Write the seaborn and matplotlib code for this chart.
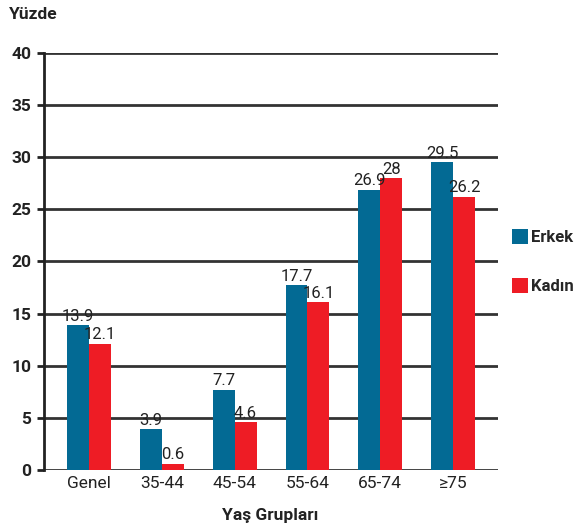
import matplotlib
matplotlib.use("Agg")
import matplotlib.pyplot as plt
from matplotlib import font_manager
import seaborn as sns
import pandas as pd

# Age groups and percentages by sex
groups = ["Genel", "35-44", "45-54", "55-64", "65-74", "≥75"]
erkek = [13.9, 3.9, 7.7, 17.7, 26.9, 29.5]
kadin = [12.1, 0.6, 4.6, 16.1, 28.0, 26.2]
series_names = ["Erkek", "Kadın"]
y_ticks = [0, 5, 10, 15, 20, 25, 30, 35, 40]

blue = "#036a94"
red = "#ee1c25"

sns.set_theme(style="white")
installed = {f.name for f in font_manager.fontManager.ttflist}
family = [f for f in ["Liberation Sans Narrow", "DejaVu Sans Condensed", "Roboto", "DejaVu Sans"]
          if f in installed] or ["DejaVu Sans"]
plt.rcParams["font.family"] = family + ["DejaVu Sans"]

df = pd.DataFrame({
    "grup": groups * 2,
    "cins": [series_names[0]] * len(groups) + [series_names[1]] * len(groups),
    "deger": erkek + kadin,
})

fig = plt.figure(figsize=(5.78, 5.29), dpi=100)
ax = fig.add_axes([0.076, 0.1115, 0.786, 0.7885])

sns.barplot(data=df, x="grup", y="deger", hue="cins", order=groups,
            hue_order=series_names, palette=[blue, red], width=0.6,
            saturation=1, dodge=True, ax=ax, zorder=3, errorbar=None,
            linewidth=0, edgecolor="none")

for cont in ax.containers:
    ax.bar_label(cont, fmt="{:g}", padding=1, fontsize=12, color="#222222", zorder=4)

ax.set_ylim(0, 40)
ax.set_xlim(-0.62, 5.62)
ax.set_yticks(y_ticks)
ax.set_yticklabels([str(t) for t in y_ticks], fontsize=12.5, fontweight="bold", color="#222222")
ax.tick_params(axis="y", direction="out", length=5, width=2, color="#222222", pad=4, left=True)
ax.tick_params(axis="x", length=0, labelsize=12.5, labelcolor="#222222", pad=4)

ax.yaxis.grid(True, color="#333333", linewidth=2)
ax.set_axisbelow(True)
for side in ["top", "right", "bottom"]:
    ax.spines[side].set_visible(False)
ax.spines["left"].set_color("#222222")
ax.spines["left"].set_linewidth(2)
ax.set_xlabel("")
ax.set_ylabel("")

ax.legend(loc="center left", bbox_to_anchor=(1.015, 0.5), frameon=False,
          handlelength=1.0, handleheight=1.0, handletextpad=0.15,
          labelspacing=2.0, borderpad=0.2, borderaxespad=0.2,
          prop={"size": 12, "weight": "bold"})

fig.text(0.015, 0.972, "Yüzde", fontsize=12.5, fontweight="bold", color="#222222", va="center")
fig.text(0.467, 0.025, "Yaş Grupları", fontsize=12.5, fontweight="bold", color="#222222",
         ha="center", va="center")

fig.savefig("out.png", dpi=100)
